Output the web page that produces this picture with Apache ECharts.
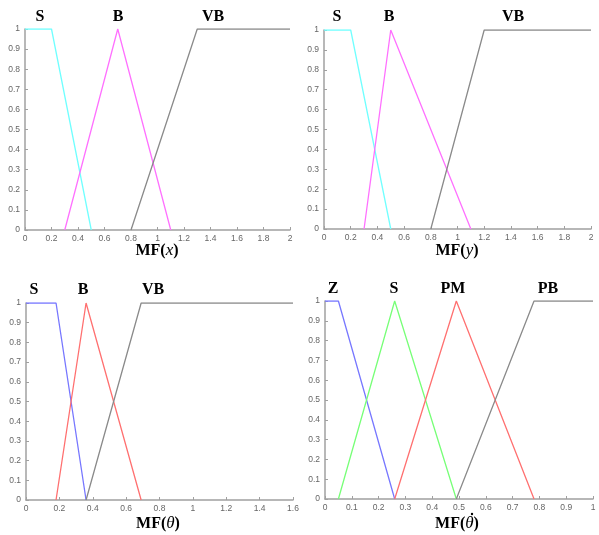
<!DOCTYPE html>
<html><head><meta charset="utf-8">
<script src="https://cdn.jsdelivr.net/npm/echarts@6/dist/echarts.min.js"></script>
<style>html,body{margin:0;padding:0;background:#fff}#c{width:599px;height:535px}</style>
</head><body><div id="c"></div>
<script>
// Panel 1: MF(x)
var p1_S  = [[0,1],[0.2,1],[0.5,0]];
var p1_B  = [[0.3,0],[0.7,1],[1.1,0]];
var p1_VB = [[0.8,0],[1.3,1],[2,1]];
// Panel 2: MF(y)
var p2_S  = [[0,1],[0.2,1],[0.5,0]];
var p2_B  = [[0.3,0],[0.5,1],[1.1,0]];
var p2_VB = [[0.8,0],[1.2,1],[2,1]];
// Panel 3: MF(theta)
var p3_S  = [[0,1],[0.18,1],[0.36,0]];
var p3_B  = [[0.18,0],[0.36,1],[0.69,0]];
var p3_VB = [[0.36,0],[0.69,1],[1.6,1]];
// Panel 4: MF(theta dot)
var p4_Z  = [[0,1],[0.05,1],[0.26,0]];
var p4_S  = [[0.05,0],[0.26,1],[0.49,0]];
var p4_PM = [[0.26,0],[0.49,1],[0.78,0]];
var p4_PB = [[0.49,0],[0.78,1],[1,1]];

var xMax = [2, 2, 1.6, 1];
var xStep = [0.2, 0.2, 0.2, 0.1];
var setNames = [["S","B","VB"],["S","B","VB"],["S","B","VB"],["Z","S","PM","PB"]];
var axisVars = ["x","y","θ","θ"];

var grids = [
  {left:25, top:29, width:265, height:201},
  {left:324, top:30, width:267, height:199},
  {left:26, top:303, width:267, height:197},
  {left:325, top:301, width:268, height:198}
];
var axisColor = '#a0a0a0', labelColor = '#666';
function fmt(v){ return (Math.round(v*10)/10).toString(); }
var xAxes = [], yAxes = [];
for (var i=0;i<4;i++){
  xAxes.push({gridIndex:i, type:'value', min:0, max:xMax[i], interval:xStep[i],
    axisLine:{lineStyle:{color:axisColor,width:1.5}}, axisTick:{inside:true,length:3,lineStyle:{color:axisColor}},
    axisLabel:{color:labelColor,fontSize:8.5,margin:4,formatter:fmt,fontFamily:'Liberation Sans'}, splitLine:{show:false}});
  yAxes.push({gridIndex:i, type:'value', min:0, max:1, interval:0.1,
    axisLine:{show:true,lineStyle:{color:axisColor,width:1.5}}, axisTick:{show:true,inside:true,length:3,lineStyle:{color:axisColor}},
    axisLabel:{color:labelColor,fontSize:8.5,margin:5,formatter:fmt,fontFamily:'Liberation Sans'}, splitLine:{show:false}});
}
function ser(i, data, color){
  return {type:'line', xAxisIndex:i, yAxisIndex:i, data:data, symbol:'none', silent:true,
    lineStyle:{color:color,width:1.3}, animation:false};
}
var cyan='#70ffff', mag='#ff70ff', gray='#8a8a8a', blue='#7777ff', red='#ff7070', green='#77ff77';
var series = [
  ser(0,p1_S,cyan), ser(0,p1_B,mag), ser(0,p1_VB,gray),
  ser(1,p2_S,cyan), ser(1,p2_B,mag), ser(1,p2_VB,gray),
  ser(2,p3_S,blue), ser(2,p3_B,red), ser(2,p3_VB,gray),
  ser(3,p4_Z,blue), ser(3,p4_S,green), ser(3,p4_PM,red), ser(3,p4_PB,gray)
];
var lblStyle = {fontFamily:'Liberation Serif', fontWeight:'bold', fontSize:16, fill:'#000'};
var letterPos = [
  [[40,17],[118,17],[213,17]],
  [[337,17],[389,17],[513,17]],
  [[34,290],[83,290],[153,290]],
  [[333,289],[394,289],[453,289],[548,289]]
];
var titlePos = [[157,251],[457,251],[158,524],[457,524]];
var graphics = [];
for (var i=0;i<4;i++){
  for (var j=0;j<setNames[i].length;j++){
    graphics.push({type:'text', x:letterPos[i][j][0], y:letterPos[i][j][1],
      style:Object.assign({text:setNames[i][j], align:'center', verticalAlign:'middle'}, lblStyle)});
  }
  graphics.push({type:'text', x:titlePos[i][0], y:titlePos[i][1],
    style:Object.assign({text:'MF({v|' + axisVars[i] + '})', align:'center', verticalAlign:'middle',
      rich:{v:{fontFamily:'Liberation Serif', fontStyle:'italic', fontWeight:'normal', fontSize:17, fill:'#000'}}}, lblStyle)});
}
// dot over theta in panel 4
graphics.push({type:'circle', z:100, shape:{cx:472, cy:514, r:1.2}, style:{fill:'#000'}});
var chart = echarts.init(document.getElementById('c'), null, {renderer:'canvas'});
chart.setOption({animation:false, grid:grids, xAxis:xAxes, yAxis:yAxes, series:series, graphic:graphics});
</script></body></html>
